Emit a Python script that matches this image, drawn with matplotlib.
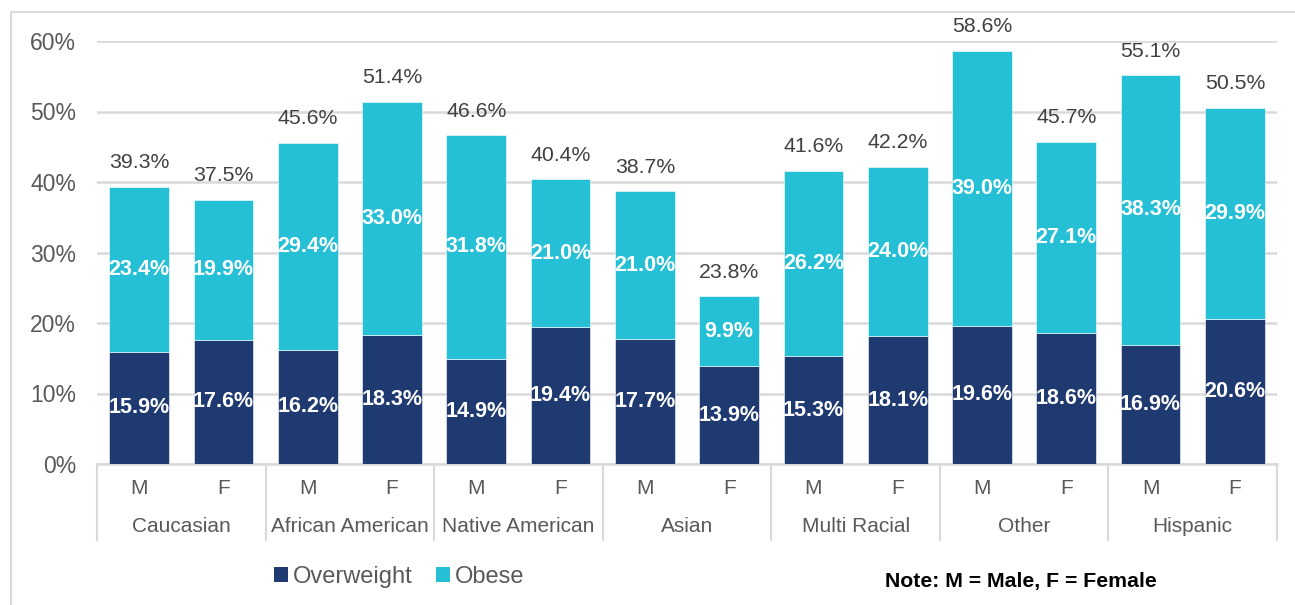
import matplotlib
matplotlib.use("Agg")
import matplotlib.pyplot as plt
from matplotlib.patches import Rectangle, Patch
from matplotlib.lines import Line2D
import matplotlib.transforms as mtransforms

# ---- data ----
groups = ["Caucasian", "African American", "Native American", "Asian",
          "Multi Racial", "Other", "Hispanic"]
sexes = ["M", "F"]
overweight = [15.9, 17.6, 16.2, 18.3, 14.9, 19.4, 17.7, 13.9, 15.3, 18.1, 19.6, 18.6, 16.9, 20.6]
obese = [23.4, 19.9, 29.4, 33.0, 31.8, 21.0, 21.0, 9.9, 26.2, 24.0, 39.0, 27.1, 38.3, 29.9]
totals = [39.3, 37.5, 45.6, 51.4, 46.6, 40.4, 38.7, 23.8, 41.6, 42.2, 58.6, 45.7, 55.1, 50.5]
yticks = [0, 10, 20, 30, 40, 50, 60]
series_names = ["Overweight", "Obese"]

NAVY = "#1F3A70"
CYAN = "#25C0D6"
GRID = "#D9D9D9"
TXT = "#595959"

plt.rcParams["font.family"] = ["Liberation Sans", "DejaVu Sans"]

W, H = 1295, 605
fig = plt.figure(figsize=(W / 100, H / 100), dpi=100)

# outer border
fig.patches.append(Rectangle((10.5 / W, -0.05), 1.2, (605 - 11.5) / H + 0.05,
                             transform=fig.transFigure, fill=False,
                             edgecolor=GRID, linewidth=1.5, zorder=0))

ax_l, ax_r, ax_t, ax_b = 97, 1277, 41, 464
ax = fig.add_axes([ax_l / W, 1 - ax_b / H, (ax_r - ax_l) / W, (ax_b - ax_t) / H])

n = len(overweight)
x = list(range(n))
bw = 0.71
ax.bar(x, overweight, width=bw, color=NAVY, edgecolor="white", linewidth=0.4, zorder=3)
ax.bar(x, obese, width=bw, bottom=overweight, color=CYAN, edgecolor="white", linewidth=0.4, zorder=3)

ax.set_xlim(-0.5, n - 0.5)
ax.set_ylim(0, 60)
ax.set_yticks(yticks)
ax.set_yticklabels([f"{v}%" for v in yticks], color=TXT, fontsize=16.5)
ax.tick_params(axis="y", length=0, pad=15)
ax.set_xticks([])
ax.yaxis.grid(True, color=GRID, linewidth=1.8, zorder=0)
ax.set_axisbelow(True)
for s in ["top", "right", "left"]:
    ax.spines[s].set_visible(False)
ax.spines["bottom"].set_color(GRID)
ax.spines["bottom"].set_linewidth(1.8)

# data labels
for i in range(n):
    ax.text(x[i], overweight[i] / 2, f"{overweight[i]:.1f}%", ha="center", va="center",
            color="white", fontsize=15.5, fontweight="bold", zorder=4)
    ax.text(x[i], overweight[i] + obese[i] / 2, f"{obese[i]:.1f}%", ha="center", va="center",
            color="white", fontsize=15.5, fontweight="bold", zorder=4)
    ax.annotate(f"{totals[i]:.1f}%", (x[i], totals[i]), xytext=(0, 24),
                textcoords="offset pixels", ha="center", va="center",
                color="#404040", fontsize=15.3, annotation_clip=False)

# two-level category axis
ax_h = ax_b - ax_t
trans = mtransforms.blended_transform_factory(ax.transData, ax.transAxes)
for i in range(n):
    ax.text(x[i], -25 / ax_h, sexes[i % 2], transform=trans, ha="center", va="center",
            color=TXT, fontsize=15, clip_on=False)
for g, name in enumerate(groups):
    ax.text(2 * g + 0.5, -63 / ax_h, name, transform=trans, ha="center", va="center",
            color=TXT, fontsize=15, clip_on=False)
for g in range(len(groups) + 1):
    xb = 2 * g - 0.5
    ax.add_line(Line2D([xb, xb], [0, -76 / ax_h], transform=trans, color=GRID,
                       linewidth=1.5, clip_on=False))

# legend
handles = [Patch(facecolor=NAVY, edgecolor="none"), Patch(facecolor=CYAN, edgecolor="none")]
fig.legend(handles, series_names, loc="center", bbox_to_anchor=(399 / W, 1 - 577 / H),
           ncol=2, frameon=False, fontsize=17, handlelength=0.6, handleheight=0.6,
           handletextpad=0.2, columnspacing=1.0, labelcolor=TXT)

fig.text(1021 / W, 1 - 581 / H, "Note: M = Male, F = Female", ha="center", va="center",
         fontsize=15.3, fontweight="bold", color="black")

fig.savefig("out.png", dpi=100)
